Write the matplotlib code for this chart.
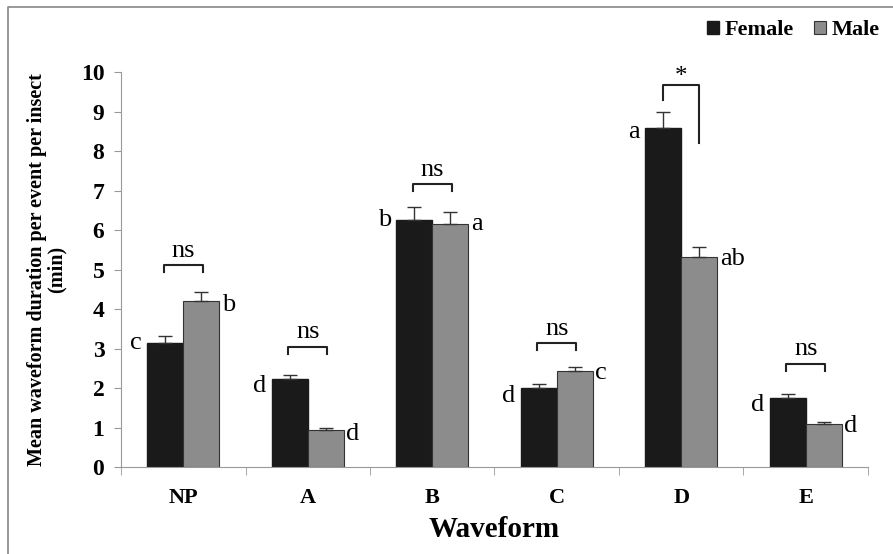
import numpy as np
import matplotlib.pyplot as plt
from matplotlib.lines import Line2D

# Data
waveforms = ["NP", "A", "B", "C", "D", "E"]
female = [3.13, 2.24, 6.25, 1.99, 8.58, 1.76]
female_err = [0.19, 0.09, 0.33, 0.10, 0.42, 0.08]
male = [4.21, 0.94, 6.15, 2.44, 5.32, 1.10]
male_err = [0.21, 0.06, 0.30, 0.09, 0.26, 0.05]
female_letters = ["c", "d", "b", "d", "a", "d"]
male_letters = ["b", "d", "a", "c", "ab", "d"]
signif = ["ns", "ns", "ns", "ns", "*", "ns"]
bracket_y = [5.12, 3.05, 7.16, 3.13, 9.67, 2.62]

plt.rcParams["font.family"] = ["Liberation Serif", "DejaVu Serif"]

fig = plt.figure(figsize=(8.93, 5.54), dpi=100)
ax = fig.add_axes([0.1355, 0.157, 0.8365, 0.713])

x = np.arange(len(waveforms))
w = 0.29
grey = "#8c8c8c"
ax.bar(x - w / 2, female, w, color="#1a1a1a", edgecolor="#1a1a1a", label="Female")
ax.bar(x + w / 2, male, w, color=grey, edgecolor="#333333", linewidth=0.8, label="Male")
ax.errorbar(x - w / 2, female, yerr=[np.zeros(6), female_err], fmt="none",
            ecolor="#333333", elinewidth=1, capsize=5, capthick=1)
ax.errorbar(x + w / 2, male, yerr=[np.zeros(6), male_err], fmt="none",
            ecolor="#333333", elinewidth=1, capsize=5, capthick=1)

# significance brackets
for i in range(len(waveforms)):
    yb = bracket_y[i]
    if signif[i] == "*":
        x0, x1 = x[i] - w / 2, x[i] + w / 2
        ax.plot([x0, x0, x1, x1], [9.29, yb, yb, 8.21], color="#222222", lw=1.5)
        ax.text((x0 + x1) / 2, yb + 0.2, "*", ha="center", va="center", fontsize=18)
    else:
        x0, x1 = x[i] - 0.155, x[i] + 0.155
        ax.plot([x0, x0, x1, x1], [yb - 0.18, yb, yb, yb - 0.18], color="#222222", lw=1.5)
        ax.text((x0 + x1) / 2, yb + 0.08, "ns", ha="center", va="bottom", fontsize=19)

# letters
f_off = [0.0, -0.2, 0.0, -0.2, -0.1, -0.2]
m_off = [-0.1, -0.1, 0.0, -0.05, -0.05, -0.05]
for i in range(len(waveforms)):
    ax.text(x[i] - w - 0.04, female[i] + f_off[i], female_letters[i],
            ha="right", va="center", fontsize=19)
    ax.text(x[i] + w + 0.02, male[i] + m_off[i], male_letters[i],
            ha="left", va="center", fontsize=19)

ax.set_xlim(-0.5, 5.5)
ax.set_ylim(0, 10)
ax.set_yticks(range(0, 11))
ax.set_xticks(x)
ax.set_xticklabels(waveforms, fontweight="bold", fontsize=16)
ax.set_xticks(np.arange(-0.5, 6.0, 1.0), minor=True)
ax.tick_params(axis="x", which="major", length=0, pad=15)
ax.tick_params(axis="x", which="minor", length=6, color="#999999", direction="out")
ax.tick_params(axis="y", length=5, color="#999999", labelsize=17, pad=7)
for lab in ax.get_yticklabels():
    lab.set_fontweight("bold")

for s in ["top", "right"]:
    ax.spines[s].set_visible(False)
ax.spines["left"].set_color("#999999")
ax.spines["bottom"].set_color("#999999")

ax.set_xlabel("Waveform", fontsize=21, fontweight="bold", labelpad=6)
ax.set_ylabel("Mean waveform duration per event per insect\n(min)", fontsize=14.5,
              fontweight="bold", linespacing=1.0, labelpad=10)

leg = ax.legend(loc="center right", bbox_to_anchor=(1.016, 1.106), ncol=2, frameon=False,
                prop={"weight": "bold", "size": 16}, handlelength=0.55, handleheight=0.55,
                handletextpad=0.25, columnspacing=0.9, borderpad=0, borderaxespad=0)

# outer frame, only the top and left edges show in the original
fig.lines.append(Line2D([0.009, 0.009, 1.0], [0.0, 0.987, 0.987], transform=fig.transFigure,
                        color="#888888", linewidth=1.2))

fig.savefig("out.png", dpi=100)
